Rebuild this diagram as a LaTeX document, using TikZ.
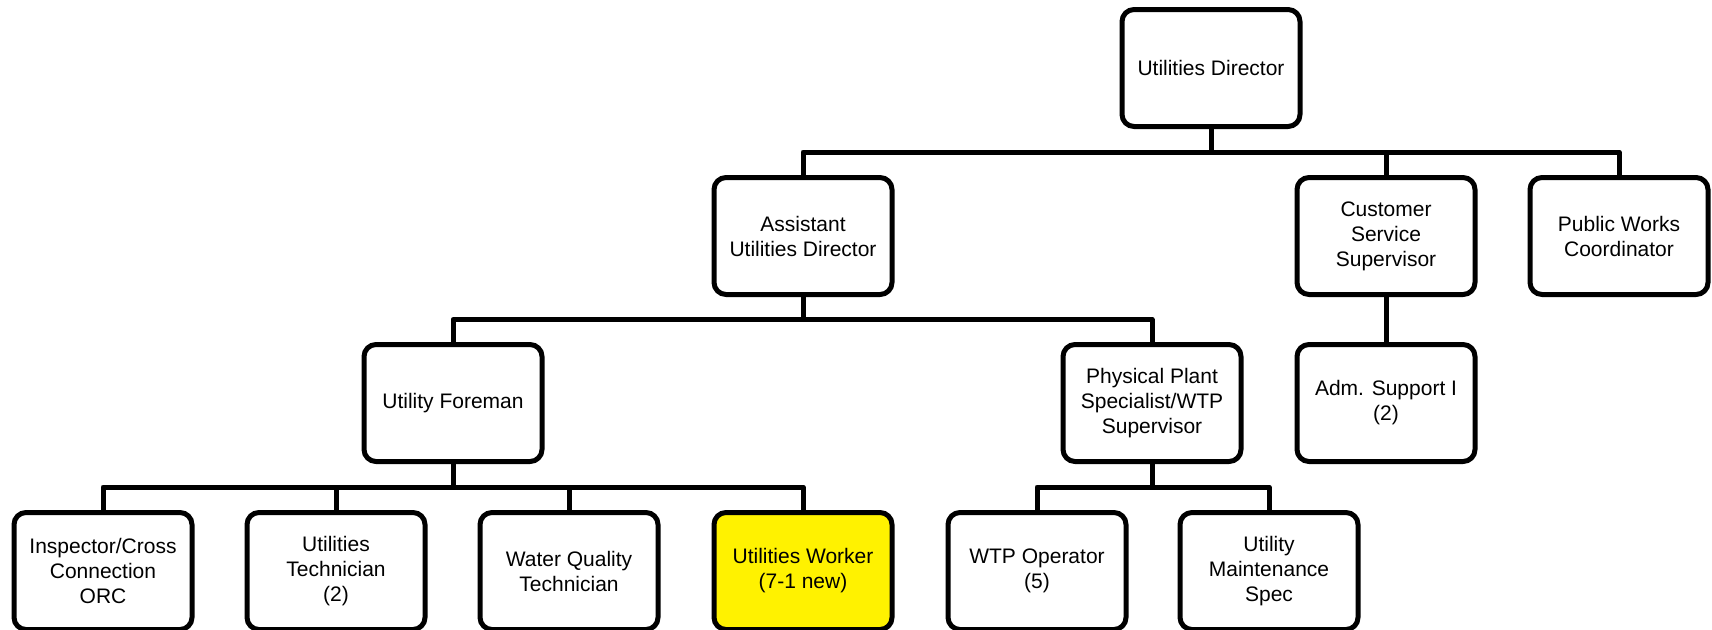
\documentclass[tikz,border=0pt]{standalone}
\usepackage{fontspec}
\setmainfont{Liberation Sans}
\usetikzlibrary{calc}

\begin{document}
\begin{tikzpicture}
  [x=1pt, y=-1pt, line width=5pt, line join=round, nodes={draw, rounded corners=12pt, line width=5pt, minimum width=178pt, minimum height=117pt, align=center, font=\fontsize{21}{25}\selectfont}]
  \tikzset{new/.style={fill=yellow}}
  \tikzset{org/.style={to path={|- ($(\tikztostart)!0.5!(\tikztotarget)$) -| (\tikztotarget)}}}

  \useasboundingbox (0,0) rectangle (1712,629);

  \node (dir) at (1211,68) {Utilities Director};

  \node (asst) at (803,236) {Assistant\\Utilities Director};
  \node (css) at (1386,236) {Customer\\Service\\Supervisor};
  \node (pwc) at (1619,236) {Public Works\\Coordinator};

  \node (uf) at (453,403) {Utility Foreman};
  \node (pps) at (1152,403) {Physical Plant\\Specialist/WTP\\Supervisor};
  \node (adm) at (1386,403) {Adm. Support I\\(2)};

  \node (ins) at (103,571) {Inspector/Cross\\Connection\\ORC};
  \node (tech) at (336,571) {Utilities\\Technician\\(2)};
  \node (wqt) at (569,571) {Water Quality\\Technician};
  \node [new] (uw) at (803,571) {Utilities Worker\\(7-1 new)};
  \node (wtp) at (1037,571) {WTP Operator\\(5)};
  \node (ums) at (1269,571) {Utility\\Maintenance\\Spec};

  % Utilities Director
  \draw (dir.south) to[org] (asst.north);
  \draw (dir.south) to[org] (css.north);
  \draw (dir.south) to[org] (pwc.north);
    % Assistant Utilities Director
    \draw (asst.south) to[org] (uf.north);
    \draw (asst.south) to[org] (pps.north);
      % Utility Foreman
      \draw (uf.south) to[org] (ins.north);
      \draw (uf.south) to[org] (tech.north);
      \draw (uf.south) to[org] (wqt.north);
      \draw (uf.south) to[org] (uw.north);
      % Physical Plant Specialist
      \draw (pps.south) to[org] (wtp.north);
      \draw (pps.south) to[org] (ums.north);
    % Customer Service Supervisor
    \draw (css.south) -- (adm.north);
\end{tikzpicture}
\end{document}
